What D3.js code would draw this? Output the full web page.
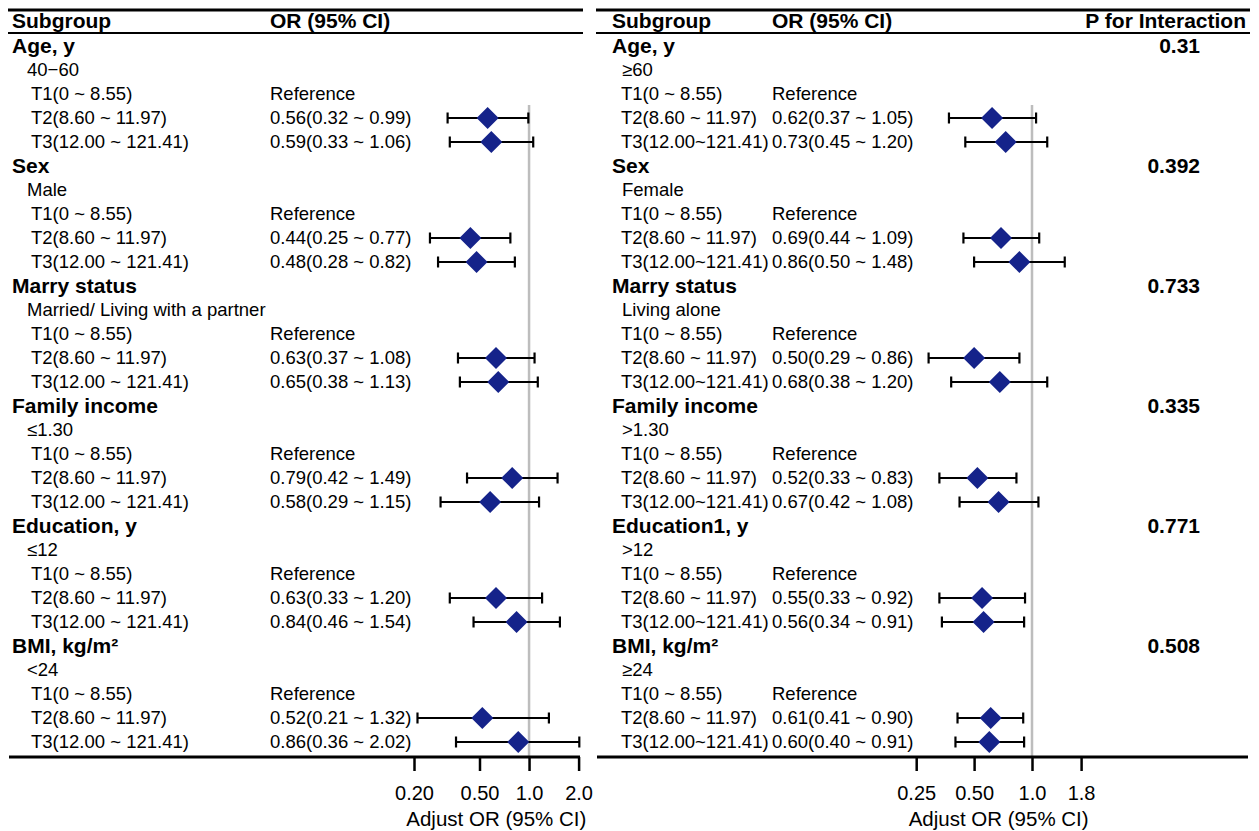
<!DOCTYPE html>
<html>
<head>
<meta charset="utf-8">
<script src="https://cdn.jsdelivr.net/npm/d3@7/dist/d3.min.js"></script>
<style>
  html, body { margin: 0; padding: 0; background: #fff; }
  svg { display: block; font-family: "Liberation Sans", Arial, sans-serif; }
</style>
</head>
<body>
<svg id="chart" width="1259" height="831"></svg>
<script>
// ---------- DATA ----------
const groupsL = ["Age, y", "Sex", "Marry status", "Family income", "Education, y", "BMI, kg/m²"];
const subsL = ["40−60", "Male", "Married/ Living with a partner", "≤1.30", "≤12", "<24"];
const tiersL = ["T1(0 ~ 8.55)", "T2(8.60 ~ 11.97)", "T3(12.00 ~ 121.41)"];
const orL   = [[0.56, 0.59], [0.44, 0.48], [0.63, 0.65], [0.79, 0.58], [0.63, 0.84], [0.52, 0.86]];
const lowL  = [[0.32, 0.33], [0.25, 0.28], [0.37, 0.38], [0.42, 0.29], [0.33, 0.46], [0.21, 0.36]];
const highL = [[0.99, 1.06], [0.77, 0.82], [1.08, 1.13], [1.49, 1.15], [1.20, 1.54], [1.32, 2.02]];
const ticksL = [0.2, 0.5, 1.0, 2.0];
const tickLabelsL = ["0.20", "0.50", "1.0", "2.0"];

const groupsR = ["Age, y", "Sex", "Marry status", "Family income", "Education1, y", "BMI, kg/m²"];
const subsR = ["≥60", "Female", "Living alone", ">1.30", ">12", "≥24"];
const tiersR = ["T1(0 ~ 8.55)", "T2(8.60 ~ 11.97)", "T3(12.00~121.41)"];
const orR   = [[0.62, 0.73], [0.69, 0.86], [0.50, 0.68], [0.52, 0.67], [0.55, 0.56], [0.61, 0.60]];
const lowR  = [[0.37, 0.45], [0.44, 0.50], [0.29, 0.38], [0.33, 0.42], [0.33, 0.34], [0.41, 0.40]];
const highR = [[1.05, 1.20], [1.09, 1.48], [0.86, 1.20], [0.83, 1.08], [0.92, 0.91], [0.90, 0.91]];
const pInter = ["0.31", "0.392", "0.733", "0.335", "0.771", "0.508"];
const ticksR = [0.25, 0.5, 1.0, 1.8];
const tickLabelsR = ["0.25", "0.50", "1.0", "1.8"];

const refLabel = "Reference";
const axisTitle = "Adjust OR (95% CI)";

// ---------- LAYOUT ----------
const svg = d3.select("#chart");
const f2 = d3.format(".2f");
const markColor = "#15238a";
const rowsPerGroup = 5;
const nRows = groupsL.length * rowsPerGroup;
const yRow = d3.scaleLinear().domain([0, nRows - 1]).range([46, 742]);
const topY = 10, headUnderY = 33, bottomY = 757;
const fsReg = 18.5, fsBold = 21;

function panel(cfg) {
  const g = svg.append("g");
  const x = d3.scaleLog().domain(cfg.domain).range(cfg.range);

  g.append("line").attr("x1", cfg.x0).attr("x2", cfg.x1).attr("y1", topY).attr("y2", topY)
    .attr("stroke", "#000").attr("stroke-width", 3);
  g.append("line").attr("x1", cfg.x0).attr("x2", cfg.x1).attr("y1", headUnderY).attr("y2", headUnderY)
    .attr("stroke", "#000").attr("stroke-width", 2);
  g.append("line").attr("x1", x(1)).attr("x2", x(1))
    .attr("y1", yRow(3) - 13).attr("y2", bottomY)
    .attr("stroke", "#bdbdbd").attr("stroke-width", 2.5);

  g.append("text").attr("x", cfg.textX).attr("y", 21).attr("dy", "0.35em")
    .attr("font-size", fsBold).attr("font-weight", "bold").text("Subgroup");
  g.append("text").attr("x", cfg.orX).attr("y", 21).attr("dy", "0.35em")
    .attr("font-size", fsBold).attr("font-weight", "bold").text("OR (95% CI)");
  if (cfg.pvals) {
    g.append("text").attr("x", cfg.pHeadX).attr("y", 21).attr("dy", "0.35em")
      .attr("text-anchor", "end").attr("font-size", fsBold).attr("font-weight", "bold")
      .text("P for Interaction");
  }

  cfg.groups.forEach((grp, gi) => {
    const base = gi * rowsPerGroup;
    g.append("text").attr("x", cfg.textX).attr("y", yRow(base)).attr("dy", "0.35em")
      .attr("font-size", fsBold).attr("font-weight", "bold").text(grp);
    if (cfg.pvals) {
      g.append("text").attr("x", cfg.pX).attr("y", yRow(base)).attr("dy", "0.35em")
        .attr("text-anchor", "end").attr("font-size", fsBold).attr("font-weight", "bold")
        .text(cfg.pvals[gi]);
    }
    g.append("text").attr("x", cfg.subX).attr("y", yRow(base + 1)).attr("dy", "0.35em")
      .attr("font-size", fsReg).text(cfg.subs[gi]);
    cfg.tiers.forEach((t, ti) => {
      const yy = yRow(base + 2 + ti);
      g.append("text").attr("x", cfg.tierX).attr("y", yy).attr("dy", "0.35em")
        .attr("font-size", fsReg).text(t);
      if (ti === 0) {
        g.append("text").attr("x", cfg.orX).attr("y", yy).attr("dy", "0.35em")
          .attr("font-size", fsReg).text(refLabel);
      } else {
        const o = cfg.or[gi][ti - 1], lo = cfg.low[gi][ti - 1], hi = cfg.high[gi][ti - 1];
        g.append("text").attr("x", cfg.orX).attr("y", yy).attr("dy", "0.35em")
          .attr("font-size", fsReg).text(`${f2(o)}(${f2(lo)} ~ ${f2(hi)})`);
        g.append("line").attr("x1", x(lo)).attr("x2", x(hi)).attr("y1", yy).attr("y2", yy)
          .attr("stroke", "#000").attr("stroke-width", 2.2);
        [lo, hi].forEach(v => {
          g.append("line").attr("x1", x(v)).attr("x2", x(v)).attr("y1", yy - 5.5).attr("y2", yy + 5.5)
            .attr("stroke", "#000").attr("stroke-width", 2.2);
        });
        const cx = x(o), s = 11;
        g.append("path")
          .attr("d", `M${cx},${yy - s}L${cx + s},${yy}L${cx},${yy + s}L${cx - s},${yy}Z`)
          .attr("fill", markColor);
      }
    });
  });

  g.append("line").attr("x1", cfg.bx0).attr("x2", cfg.bx1).attr("y1", bottomY).attr("y2", bottomY)
    .attr("stroke", "#000").attr("stroke-width", 3);

  const axis = d3.axisBottom(x).tickValues(cfg.ticks)
    .tickFormat((d, i) => cfg.tickLabels[i]).tickSize(14).tickPadding(15);
  const ag = g.append("g").attr("transform", `translate(0,${bottomY})`).call(axis);
  ag.select(".domain").remove();
  ag.selectAll(".tick line").attr("stroke", "#000").attr("stroke-width", 2.5);
  ag.selectAll(".tick text").attr("font-size", 20).attr("fill", "#000")
    .attr("font-family", "Liberation Sans, Arial, sans-serif");

  g.append("text").attr("x", (cfg.range[0] + cfg.range[1]) / 2).attr("y", 819)
    .attr("dy", "0.35em").attr("text-anchor", "middle").attr("font-size", 20.5).text(axisTitle);
}

panel({
  groups: groupsL, subs: subsL, tiers: tiersL, or: orL, low: lowL, high: highL,
  ticks: ticksL, tickLabels: tickLabelsL,
  domain: [0.2, 2.0], range: [414, 578.6],
  x0: 8, x1: 583, bx0: 9, bx1: 580,
  textX: 12, subX: 27, tierX: 31, orX: 270
});

panel({
  groups: groupsR, subs: subsR, tiers: tiersR, or: orR, low: lowR, high: highR,
  pvals: pInter, pX: 1200, pHeadX: 1246,
  ticks: ticksR, tickLabels: tickLabelsR,
  domain: [0.25, 1.8], range: [916.2, 1081.1],
  x0: 596, x1: 1250, bx0: 597, bx1: 1248,
  textX: 612, subX: 622, tierX: 621, orX: 772
});
</script>
</body>
</html>
